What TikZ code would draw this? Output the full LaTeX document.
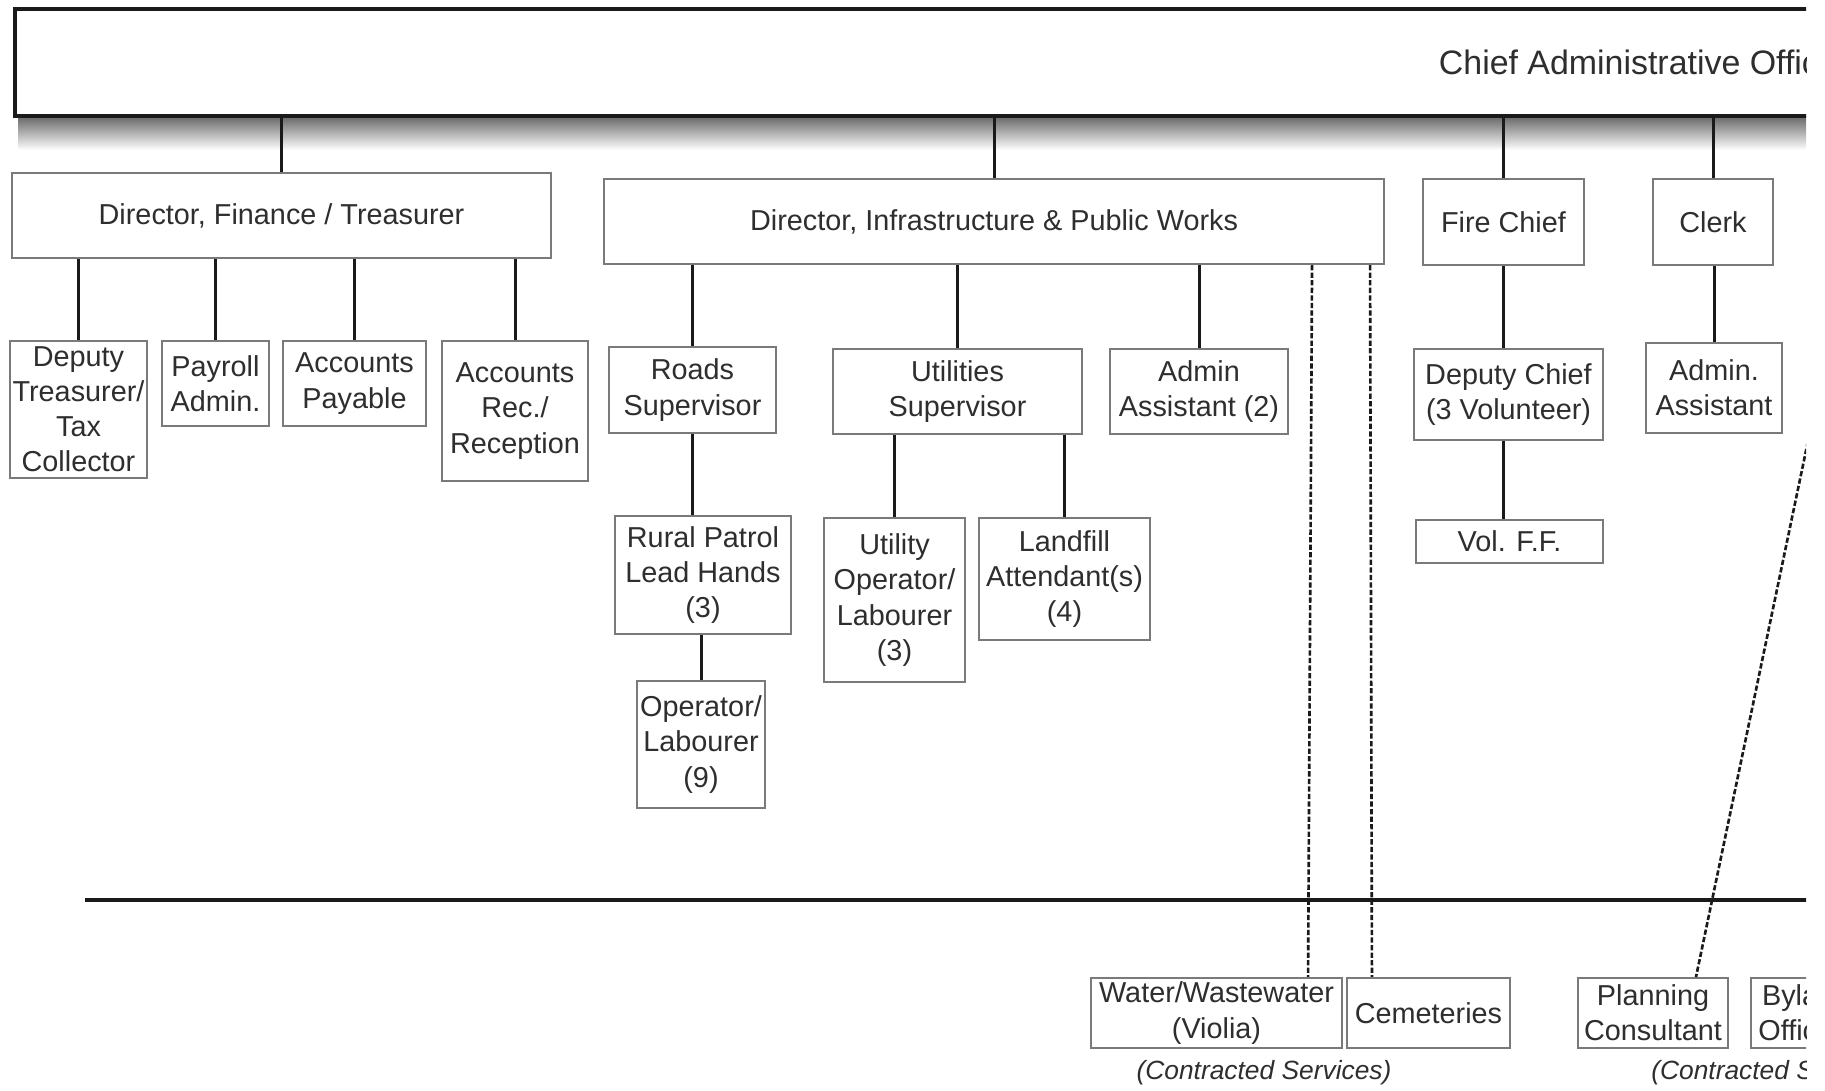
\documentclass[tikz,border=0pt]{standalone}
\usepackage{fontspec}
\setmainfont{Liberation Sans}
\usetikzlibrary{calc}
\definecolor{boxgray}{HTML}{7A7A7A}
\definecolor{txt}{HTML}{2E2E2E}
\definecolor{linegray}{HTML}{1A1A1A}
\tikzset{
  box/.style={draw=boxgray, line width=1.2pt, fill=white, align=center, inner sep=0pt, text=txt, font=\fontsize{16.4}{20}\selectfont},
  wh/.style 2 args={minimum width=#1*0.02cm, minimum height=#2*0.02cm},
  conn/.style={draw=linegray, line width=1.7pt},
  dline/.style={draw=linegray, line width=1.5pt, dash pattern=on 3pt off 1.3pt},
  contr/.style={text=txt, inner sep=0pt, font=\fontsize{15}{18}\selectfont\itshape},
}
\begin{document}
\begin{tikzpicture}[x=0.02cm,y=-0.02cm]
\useasboundingbox (0,0) rectangle (1825,1090);
\begin{scope}
\clip (0,0) rectangle (1806,1090);
% shadow under CAO box
\shade[top color=black!60, bottom color=white] (18,116) rectangle (1806,150);
% CAO
\node[box, draw=linegray, line width=2pt, wh={3258}{107}, font=\fontsize{19.3}{22}\selectfont] (cao) at (1644,62.5) {Chief Administrative Officer};
% Finance
\node[box, wh={539}{85}] (fin) at (281.5,215.5) {Director, Finance / Treasurer};
\node[box, wh={137}{137}] (dep) at (78.5,409.5) {Deputy\\Treasurer/\\Tax\\Collector};
\node[box, wh={107}{85}] (pay) at (215.5,383.5) {Payroll\\Admin.};
\node[box, wh={143}{85}] (ap) at (354.5,383.5) {Accounts\\Payable};
\node[box, wh={146}{140}] (ar) at (515,411) {Accounts\\Rec./\\Reception};
% Infrastructure
\node[box, wh={780}{85}] (infra) at (994,221.5) {Director, Infrastructure \& Public Works};
\node[box, wh={167}{86}] (roads) at (692.5,390) {Roads\\Supervisor};
\node[box, wh={249}{85}] (util) at (957.5,391.5) {Utilities\\Supervisor};
\node[box, wh={178}{85}] (aa2) at (1199,391.5) {Admin\\Assistant (2)};
\node[box, wh={176}{118}] (rural) at (703,575) {Rural Patrol\\Lead Hands\\(3)};
\node[box, wh={128}{127}] (oplab) at (701,744.5) {Operator/\\Labourer\\(9)};
\node[box, wh={141}{164}] (utop) at (894.5,600) {Utility\\Operator/\\Labourer\\(3)};
\node[box, wh={171}{122}] (land) at (1064.5,579) {Landfill\\Attendant(s)\\(4)};
% Fire
\node[box, wh={161}{86}] (fire) at (1503.5,222) {Fire Chief};
\node[box, wh={189}{91}] (dchief) at (1508.5,394.5) {Deputy Chief\\(3 Volunteer)};
\node[box, wh={187}{43}] (volff) at (1509.5,541.5) {Vol. F.F.};
% Clerk
\node[box, wh={120}{86}] (clerk) at (1713,222) {Clerk};
\node[box, wh={136}{90}] (aa) at (1714,388) {Admin.\\Assistant};
% Contracted services
\node[box, wh={251}{70}] (water) at (1216.5,1013) {Water/Wastewater\\(Violia)};
\node[box, wh={163}{70}] (cem) at (1428.5,1013) {Cemeteries};
\node[box, wh={150}{70}] (plan) at (1653,1013) {Planning\\Consultant};
\node[box, wh={99}{70}] (bylaw) at (1800.5,1013) {Bylaw\\Officer};
\node[contr] (cs1) at (1264,1073) {(Contracted Services)};
\node[contr, anchor=west] (cs2) at (1651,1073) {(Contracted Services)};
% connectors from CAO
\draw[conn] (cao.south -| fin.north) -- (fin.north);
\draw[conn] (cao.south -| infra.north) -- (infra.north);
\draw[conn] (cao.south -| fire.north) -- (fire.north);
\draw[conn] (cao.south -| clerk.north) -- (clerk.north);
% finance
\foreach \c in {dep,pay,ap,ar} \draw[conn] (fin.south -| \c.north) -- (\c.north);
% infrastructure
\foreach \c in {roads,util,aa2} \draw[conn] (infra.south -| \c.north) -- (\c.north);
\draw[conn] (roads.south) -- (roads.south |- rural.north);
\draw[conn] (oplab.north |- rural.south) -- (oplab.north);
\draw[conn] (util.south -| utop.north) -- (utop.north);
\draw[conn] (util.south -| land.north) -- (land.north);
% fire
\draw[conn] (fire.south) -- (fire.south |- dchief.north);
\draw[conn] (fire.south |- dchief.south) -- (fire.south |- volff.north);
% clerk
\draw[conn] (clerk.south -| aa.north) -- (aa.north);
% horizontal rule
\coordinate (hl1) at (85,900);
\coordinate (hl2) at (1850,900);
\draw[linegray, line width=2.3pt] (hl1) -- (hl2);
% dashed links
\draw[dline] ($(infra.south east)+(-73,0)$) -- ($(water.north east)+(-35,0)$);
\draw[dline] ($(infra.south east)+(-15,0)$) -- ($(cem.north west)+(26,0)$);
\coordinate (plsrc) at (1845,264);
\draw[dline] (plsrc) -- ($(plan.north)+(43,0)$);
\end{scope}
\end{tikzpicture}
\end{document}
